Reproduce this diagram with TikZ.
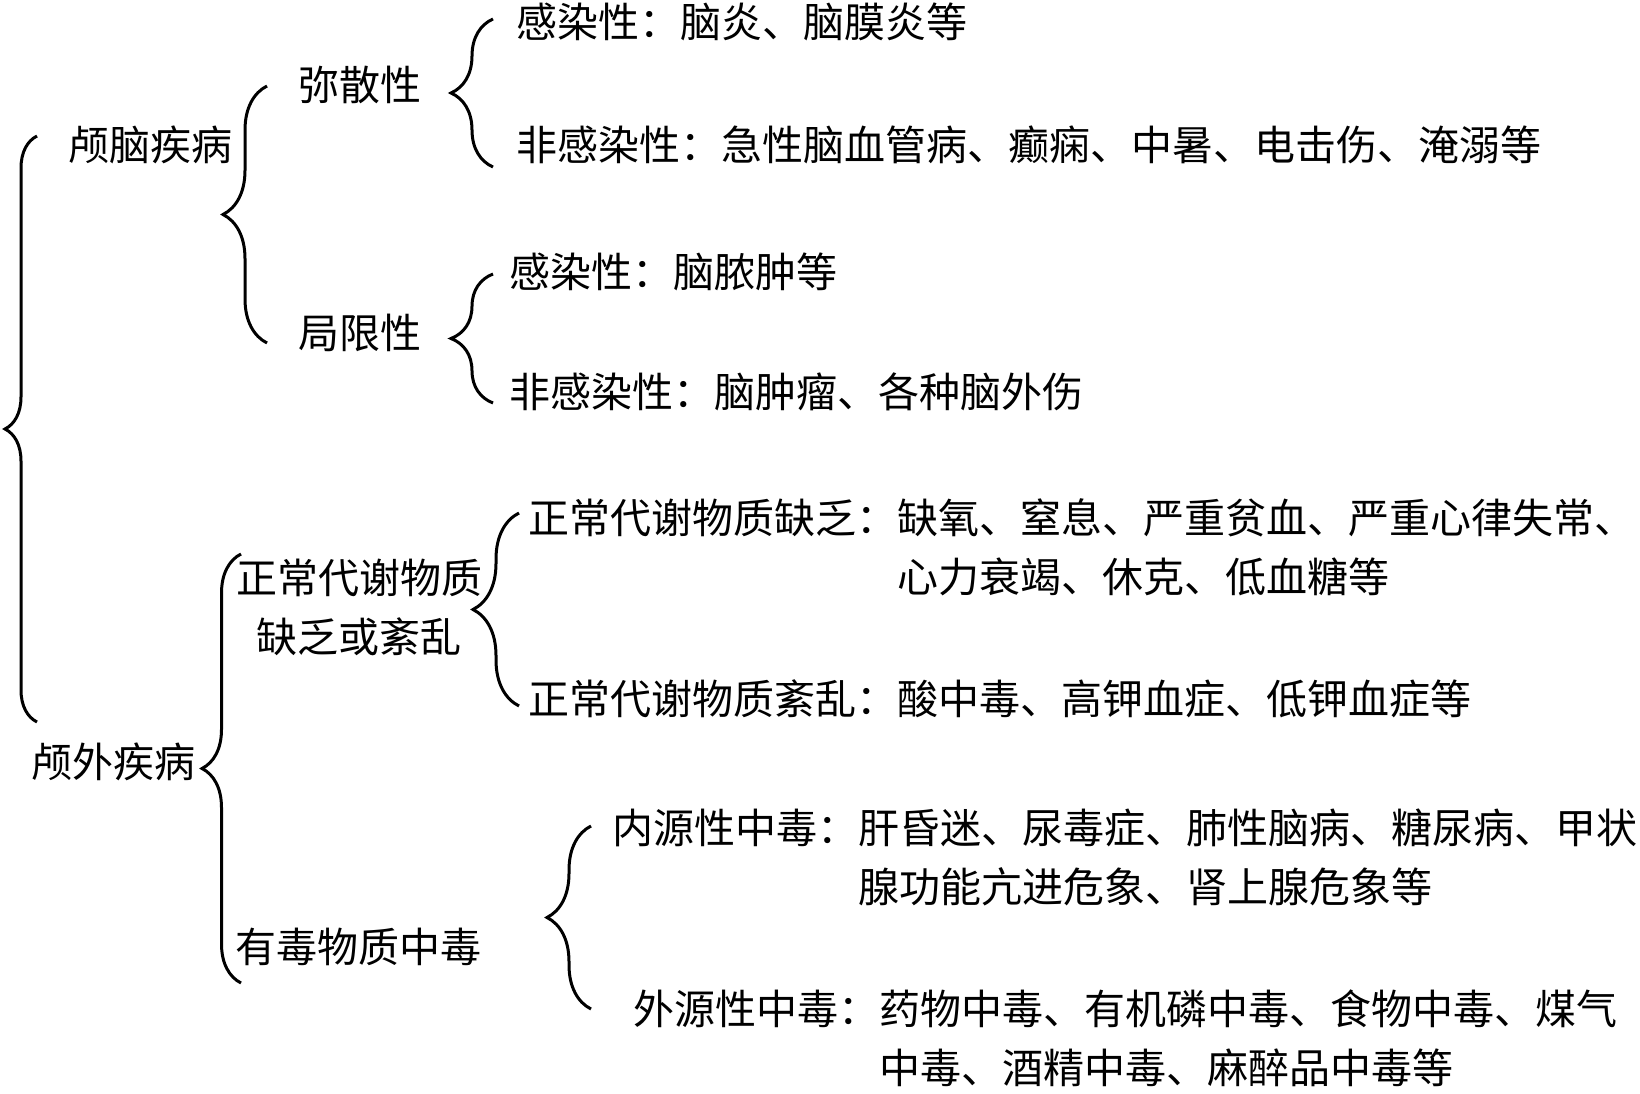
\documentclass[tikz,border=0pt]{standalone}
\usepackage{fontspec}
\setmainfont{Noto Sans CJK SC}
\usepackage{tikz}
\usetikzlibrary{decorations.pathreplacing}
\tikzset{x=1pt,y=-1pt}
\tikzset{
    txt/.style={anchor=base west,inner sep=0pt,font=\fontsize{41}{59}\selectfont},
    brc/.style={draw,line width=3pt,decorate,decoration={brace,amplitude=#1}}
}

\begin{document}
\begin{tikzpicture}[]
            \useasboundingbox (0,0) rectangle (1640,1094);
            \node[txt] (nao)    at (68,161)  {颅脑疾病};
            \node[txt] (wai)    at (31,777)  {颅外疾病};
            \node[txt] (misan)  at (298,101) {弥散性};
            \node[txt] (juxian) at (298,348) {局限性};
            \node[txt,anchor=base] (zc) at (359,593) {\begin{tabular}[t]{@{}c@{}}
                                        正常代谢物质\\
                                        缺乏或紊乱
                                        \end{tabular}};
            \node[txt] (yd)     at (235,962) {有毒物质中毒};
            \node[txt] (a1)     at (516,38)  {感染性：脑炎、脑膜炎等};
            \node[txt] (a2)     at (516,161) {非感染性：急性脑血管病、癫痫、中暑、电击伤、淹溺等};
            \node[txt] (b1)     at (509,287) {感染性：脑脓肿等};
            \node[txt] (b2)     at (509,407) {非感染性：脑肿瘤、各种脑外伤};
            \node[txt] (c1)     at (528,533) {\begin{tabular}[t]{@{}l@{}l@{}}
                                        正常代谢物质缺乏： & 缺氧、窒息、严重贫血、严重心律失常、\\
                                                          & 心力衰竭、休克、低血糖等
                                        \end{tabular}};
            \node[txt] (c2)     at (528,714) {正常代谢物质紊乱：酸中毒、高钾血症、低钾血症等};
            \node[txt] (d1)     at (612,843) {\begin{tabular}[t]{@{}l@{}l@{}}
                                        内源性中毒： & 肝昏迷、尿毒症、肺性脑病、糖尿病、甲状\\
                                                    & 腺功能亢进危象、肾上腺危象等
                                        \end{tabular}};
            \node[txt] (d2)     at (633,1024) {\begin{tabular}[t]{@{}l@{}l@{}}
                                        外源性中毒： & 药物中毒、有机磷中毒、食物中毒、煤气\\
                                                    & 中毒、酒精中毒、麻醉品中毒等
                                        \end{tabular}};

            \coordinate (o-t) at (37,136);   \coordinate (o-b) at (37,722);
            \coordinate (n-t) at (267,86);   \coordinate (n-b) at (267,343);
            \coordinate (m-t) at (493,19);   \coordinate (m-b) at (493,167);
            \coordinate (j-t) at (493,274);  \coordinate (j-b) at (493,403);
            \coordinate (w-t) at (241,554);  \coordinate (w-b) at (241,983);
            \coordinate (z-t) at (519,513);  \coordinate (z-b) at (519,706);
            \coordinate (y-t) at (591,826);  \coordinate (y-b) at (591,1009);
            \draw[brc=32] (o-b) -- (o-t);
            \draw[brc=44] (n-b) -- (n-t);
            \draw[brc=42] (m-b) -- (m-t);
            \draw[brc=42] (j-b) -- (j-t);
            \draw[brc=39] (w-b) -- (w-t);
            \draw[brc=46] (z-b) -- (z-t);
            \draw[brc=44] (y-b) -- (y-t);
        \end{tikzpicture}
\end{document}
